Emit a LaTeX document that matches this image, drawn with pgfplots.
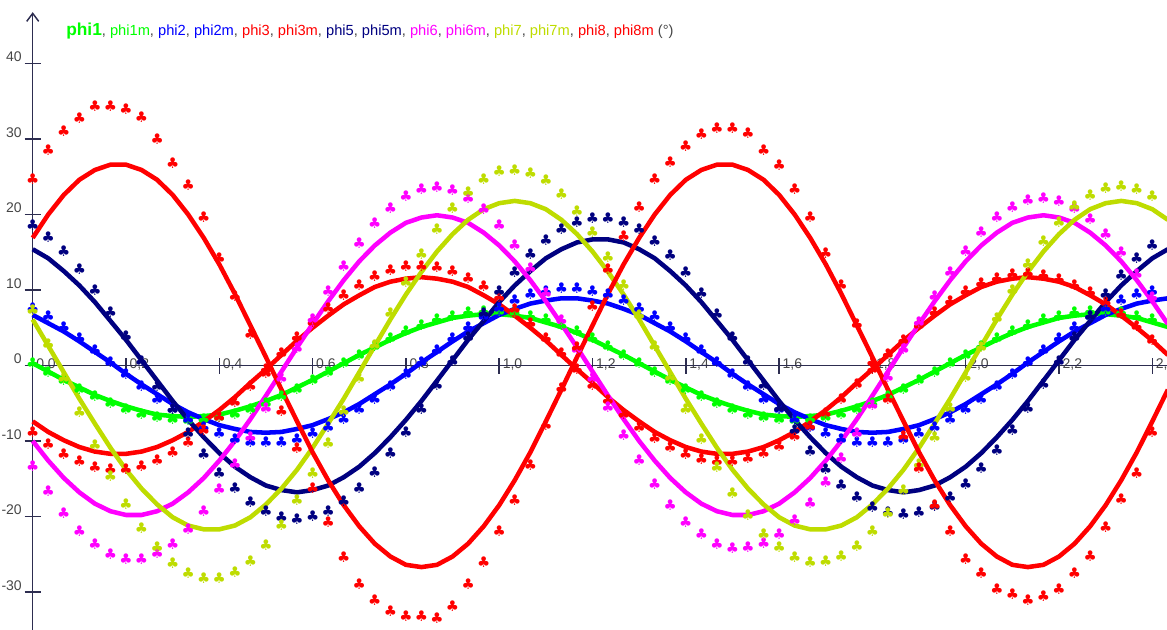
\documentclass[border=0pt]{standalone}
\usepackage{fontspec}
\setmainfont{Liberation Sans}
\newfontfamily\symfont{DejaVu Sans}
\usepackage{pgfplots}
\usepackage{pgfplotstable}
\pgfplotsset{compat=1.18}
\usetikzlibrary{arrows.meta}

\definecolor{c1}{RGB}{0,255,0}
\definecolor{c2}{RGB}{0,0,255}
\definecolor{c3}{RGB}{255,0,0}
\definecolor{c5}{RGB}{0,0,128}
\definecolor{c6}{RGB}{255,0,255}
\definecolor{c7}{RGB}{190,220,0}
\definecolor{c8}{RGB}{255,0,0}
\definecolor{axiscol}{RGB}{45,45,80}
\definecolor{labcol}{RGB}{70,70,70}

% t in s; aN = model angle, mN = measured angle (degrees)
\pgfplotstableread{
t      a1   m1   a2   m2    a3    m3    a5    m5    a6    m6    a7    m7    a8    m8
0.0000 0.3  0.3  6.7  7.6   -7.4  -8.8  15.4  18.6  -10.0 -13.3 6.1   7.3   16.9  24.7
0.0333 -0.8 -0.9 5.6  6.5   -8.8  -10.4 14.2  17.0  -12.6 -16.6 2.6   2.8   20.0  28.5
0.0667 -1.9 -2.0 4.5  5.1   -9.9  -11.7 12.5  15.1  -14.9 -19.5 -0.9  -1.7  22.6  31.1
0.1000 -2.9 -3.1 3.2  3.6   -10.8 -12.7 10.6  12.7  -16.8 -21.9 -4.4  -6.2  24.6  32.7
0.1333 -3.9 -4.1 1.8  2.0   -11.4 -13.4 8.4   10.0  -18.3 -23.7 -7.7  -10.6 25.9  34.3
0.1667 -4.7 -5.0 0.4  0.4   -11.7 -13.7 5.9   7.0   -19.3 -25.0 -10.9 -14.6 26.6  34.3
0.2000 -5.4 -5.8 -1.1 -1.2  -11.7 -13.7 3.4   3.9   -19.8 -25.6 -13.8 -18.3 26.6  33.9
0.2333 -6.0 -6.4 -2.5 -2.8  -11.4 -13.3 0.7   0.6   -19.8 -25.6 -16.3 -21.5 25.9  32.9
0.2667 -6.5 -6.8 -3.8 -4.4  -10.8 -12.6 -2.0  -2.7  -19.3 -24.9 -18.4 -24.1 24.6  30.0
0.3000 -6.7 -7.1 -5.1 -5.8  -9.9  -11.5 -4.7  -5.8  -18.3 -23.6 -20.1 -26.2 22.6  26.8
0.3333 -6.8 -7.2 -6.2 -7.1  -8.8  -10.2 -7.2  -8.9  -16.8 -21.7 -21.2 -27.5 20.0  23.9
0.3667 -6.7 -7.1 -7.1 -8.2  -7.4  -8.6  -9.5  -11.7 -14.9 -19.3 -21.7 -28.2 16.9  19.6
0.4000 -6.5 -6.8 -7.9 -9.0  -5.9  -6.8  -11.6 -14.2 -12.6 -16.4 -21.7 -28.1 13.4  14.2
0.4333 -6.0 -6.4 -8.4 -9.7  -4.2  -4.8  -13.4 -16.3 -10.0 -13.1 -21.2 -27.4 9.5   9.2
0.4667 -5.4 -5.8 -8.8 -10.1 -2.3  -2.7  -14.8 -18.1 -7.1  -9.5  -20.1 -25.9 5.3   4.1
0.5000 -4.7 -5.0 -8.9 -10.2 -0.5  -0.5  -15.9 -19.3 -4.0  -5.6  -18.4 -23.8 1.1   -1.0
0.5333 -3.9 -4.1 -8.8 -10.1 1.4   1.6   -16.5 -20.1 -0.8  -1.7  -16.3 -21.1 -3.2  -6.0
0.5667 -2.9 -3.1 -8.4 -9.7  3.3   3.7   -16.8 -20.3 2.4   2.3   -13.8 -17.9 -7.4  -11.0
0.6000 -1.9 -2.0 -7.9 -9.0  5.0   5.8   -16.5 -20.0 5.5   6.1   -10.9 -14.2 -11.5 -16.2
0.6333 -0.8 -0.9 -7.1 -8.2  6.6   7.6   -15.9 -19.3 8.5   9.8   -7.7  -10.3 -15.2 -20.8
0.6667 0.3  0.3  -6.2 -7.1  8.1   9.3   -14.8 -18.0 11.3  13.2  -4.4  -6.0  -18.5 -25.4
0.7000 1.4  1.4  -5.1 -5.8  9.3   10.7  -13.4 -16.2 13.8  16.2  -0.9  -1.7  -21.3 -28.9
0.7333 2.4  2.6  -3.8 -4.4  10.4  11.8  -11.6 -14.1 15.9  18.8  2.6   2.7   -23.6 -31.1
0.7667 3.4  3.6  -2.5 -2.8  11.1  12.6  -9.5  -11.6 17.6  20.9  6.1   6.9   -25.3 -32.5
0.8000 4.3  4.6  -1.1 -1.2  11.5  13.1  -7.2  -8.8  18.9  22.4  9.4   11.0  -26.4 -33.2
0.8333 5.1  5.4  0.4  0.4   11.7  13.2  -4.7  -5.8  19.6  23.3  12.4  14.7  -26.7 -33.2
0.8667 5.7  6.1  1.8  2.0   11.5  13.0  -2.0  -2.6  19.9  23.6  15.1  18.0  -26.4 -33.5
0.9000 6.3  6.6  3.2  3.6   11.1  12.5  0.7   0.6   19.6  23.2  17.4  20.8  -25.3 -31.9
0.9333 6.6  7.0  4.5  5.1   10.4  11.6  3.4   3.8   18.9  22.2  19.3  23.0  -23.6 -28.9
0.9667 6.8  7.2  5.6  6.5   9.3   10.5  5.9   6.9   17.6  20.7  20.7  24.7  -21.3 -26.1
1.0000 6.8  7.2  6.7  7.6   8.1   9.1   8.4   9.8   15.9  18.6  21.5  25.7  -18.5 -22.0
1.0333 6.6  7.0  7.5  8.6   6.6   7.4   10.6  12.4  13.8  16.0  21.8  25.9  -15.2 -17.8
1.0667 6.3  6.6  8.2  9.4   5.0   5.6   12.5  14.7  11.3  12.9  21.5  25.5  -11.5 -13.2
1.1000 5.7  6.1  8.6  9.9   3.3   3.6   14.2  16.6  8.5   9.6   20.7  24.5  -7.4  -7.9
1.1333 5.1  5.4  8.9  10.2  1.4   1.6   15.4  18.0  5.5   6.0   19.3  22.7  -3.2  -3.0
1.1667 4.3  4.6  8.9  10.2  -0.5  -0.5  16.3  19.0  2.4   2.2   17.4  20.4  1.1   2.4
1.2000 3.4  3.6  8.6  9.9   -2.3  -2.6  16.7  19.5  -0.8  -1.7  15.1  17.6  5.3   7.8
1.2333 2.4  2.6  8.2  9.4   -4.2  -4.6  16.7  19.5  -4.0  -5.5  12.4  14.3  9.5   12.7
1.2667 1.4  1.4  7.5  8.6   -5.9  -6.4  16.3  19.0  -7.1  -9.2  9.4   10.6  13.4  17.1
1.3000 0.3  0.3  6.7  7.6   -7.4  -8.1  15.4  18.0  -10.0 -12.6 6.1   6.7   16.9  21.0
1.3333 -0.8 -0.9 5.6  6.5   -8.8  -9.6  14.2  16.5  -12.6 -15.7 2.6   2.5   20.0  24.7
1.3667 -1.9 -2.0 4.5  5.1   -9.9  -10.8 12.5  14.6  -14.9 -18.5 -0.9  -1.6  22.6  26.9
1.4000 -2.9 -3.1 3.2  3.6   -10.8 -11.8 10.6  12.3  -16.8 -20.7 -4.4  -5.8  24.6  29.0
1.4333 -3.9 -4.1 1.8  2.0   -11.4 -12.4 8.4   9.6   -18.3 -22.4 -7.7  -9.8  25.9  30.7
1.4667 -4.7 -5.0 0.4  0.4   -11.7 -12.7 5.9   6.8   -19.3 -23.6 -10.9 -13.5 26.6  31.4
1.5000 -5.4 -5.8 -1.1 -1.2  -11.7 -12.7 3.4   3.7   -19.8 -24.2 -13.8 -16.9 26.6  31.4
1.5333 -6.0 -6.4 -2.5 -2.8  -11.4 -12.3 0.7   0.6   -19.8 -24.1 -16.3 -19.8 25.9  30.8
1.5667 -6.5 -6.8 -3.8 -4.4  -10.8 -11.6 -2.0  -2.6  -19.3 -23.5 -18.4 -22.3 24.6  28.5
1.6000 -6.7 -7.1 -5.1 -5.8  -9.9  -10.7 -4.7  -5.6  -18.3 -22.3 -20.1 -24.1 22.6  26.6
1.6333 -6.8 -7.2 -6.2 -7.1  -8.8  -9.4  -7.2  -8.6  -16.8 -20.5 -21.2 -25.4 20.0  23.3
1.6667 -6.7 -7.1 -7.1 -8.2  -7.4  -8.0  -9.5  -11.3 -14.9 -18.2 -21.7 -26.0 16.9  19.6
1.7000 -6.5 -6.8 -7.9 -9.0  -5.9  -6.3  -11.6 -13.7 -12.6 -15.5 -21.7 -25.9 13.4  14.9
1.7333 -6.0 -6.4 -8.4 -9.7  -4.2  -4.4  -13.4 -15.8 -10.0 -12.3 -21.2 -25.2 9.5   10.7
1.7667 -5.4 -5.8 -8.8 -10.1 -2.3  -2.5  -14.8 -17.5 -7.1  -9.0  -20.1 -23.9 5.3   5.5
1.8000 -4.7 -5.0 -8.9 -10.2 -0.5  -0.5  -15.9 -18.7 -4.0  -5.3  -18.4 -21.9 1.1   0.5
1.8333 -3.9 -4.1 -8.8 -10.1 1.4   1.5   -16.5 -19.4 -0.8  -1.6  -16.3 -19.5 -3.2  -4.5
1.8667 -2.9 -3.1 -8.4 -9.7  3.3   3.4   -16.8 -19.7 2.4   2.1   -13.8 -16.5 -7.4  -9.4
1.9000 -1.9 -2.0 -7.9 -9.0  5.0   5.3   -16.5 -19.4 5.5   5.7   -10.9 -13.1 -11.5 -13.6
1.9333 -0.8 -0.9 -7.1 -8.2  6.6   7.0   -15.9 -18.6 8.5   9.2   -7.7  -9.5  -15.2 -18.5
1.9667 0.3  0.3  -6.2 -7.1  8.1   8.5   -14.8 -17.4 11.3  12.4  -4.4  -5.6  -18.5 -22.0
2.0000 1.4  1.4  -5.1 -5.8  9.3   9.8   -13.4 -15.7 13.8  15.2  -0.9  -1.6  -21.3 -25.7
2.0333 2.4  2.6  -3.8 -4.4  10.4  10.9  -11.6 -13.6 15.9  17.6  2.6   2.4   -23.6 -27.5
2.0667 3.4  3.6  -2.5 -2.8  11.1  11.6  -9.5  -11.2 17.6  19.6  6.1   6.3   -25.3 -29.6
2.1000 4.3  4.6  -1.1 -1.2  11.5  12.1  -7.2  -8.5  18.9  21.0  9.4   10.0  -26.4 -30.3
2.1333 5.1  5.4  0.4  0.4   11.7  12.2  -4.7  -5.6  19.6  21.9  12.4  13.4  -26.7 -31.1
2.1667 5.7  6.1  1.8  2.0   11.5  12.0  -2.0  -2.5  19.9  22.1  15.1  16.5  -26.4 -30.6
2.2000 6.3  6.6  3.2  3.6   11.1  11.5  0.7   0.6   19.6  21.8  17.4  19.0  -25.3 -29.6
2.2333 6.6  7.0  4.5  5.1   10.4  10.7  3.4   3.7   18.9  20.9  19.3  21.1  -23.6 -27.5
2.2667 6.8  7.2  5.6  6.5   9.3   9.7   5.9   6.6   17.6  19.4  20.7  22.6  -21.3 -25.3
2.3000 6.8  7.2  6.7  7.6   8.1   8.4   8.4   9.4   15.9  17.4  21.5  23.5  -18.5 -21.4
2.3333 6.6  7.0  7.5  8.6   6.6   6.8   10.6  12.0  13.8  15.0  21.8  23.7  -15.2 -17.7
2.3667 6.3  6.6  8.2  9.4   5.0   5.2   12.5  14.2  11.3  12.1  21.5  23.4  -11.5 -14.2
2.4000 5.7  6.1  8.6  9.9   3.3   3.3   14.2  16.0  8.5   9.0   20.7  22.4  -7.4  -8.8
2.4333 5.1  5.4  8.9  10.2  1.4   1.4   15.4  17.4  5.5   5.6   19.3  20.8  -3.2  -3.5
}\phidata

\pgfplotsset{
  fit/.style={color=#1, line width=3.4pt, line join=round, mark=none},
  clubs/.style={only marks, color=#1, mark=text, text mark={\symfont ♣},
    text mark as node=true,
    text mark style={font=\fontsize{11}{11}\selectfont, inner sep=0pt, text=#1}},
}

\begin{document}
\begin{tikzpicture}
\useasboundingbox (0,0) rectangle (875.25pt,471.75pt);
\begin{axis}[
  at={(0,0)}, anchor=south west,
  scale only axis, width=875.25pt, height=471.75pt,
  xmin=-0.0701, xmax=2.4315, ymin=-34.9, ymax=48.41,
  axis lines=middle,
  axis line style={draw=none},
  hide obscured x ticks=false, hide obscured y ticks=false,
  xtick={0,0.2,0.4,0.6,0.8,1,1.2,1.4,1.6,1.8,2,2.2,2.4},
  xticklabels={{0,0},{0,2},{0,4},{0,6},{0,8},{1,0},{1,2},{1,4},{1,6},{1,8},{2,0},{2,2},{2,4}},
  ytick={-30,-20,-10,0,10,20,30,40},
  yticklabels={-30,-20,-10,0,10,20,30,40},
  major tick length=12pt, tick align=center,
  tick style={axiscol, line width=1.1pt},
  xticklabel style={anchor=south west, inner sep=0pt, xshift=2.5pt, yshift=2pt,
    font=\fontsize{10.5}{12}\selectfont, text=labcol},
  yticklabel style={anchor=south east, inner sep=0pt, xshift=-2pt, yshift=1pt,
    font=\fontsize{10.5}{12}\selectfont, text=labcol},
]
\draw[axiscol, line width=1.1pt, -{Straight Barb[length=6pt,width=9pt]}]
  (axis cs:0,-40) -- (axis cs:0,46.8);
\draw[axiscol, line width=1.1pt] (axis cs:-0.012,0) -- (axis cs:2.5,0);

\addplot[fit=c1] table[x=t, y=a1] {\phidata};
\addplot[clubs=c1] table[x=t, y=m1] {\phidata};
\addplot[fit=c2] table[x=t, y=a2] {\phidata};
\addplot[clubs=c2] table[x=t, y=m2] {\phidata};
\addplot[fit=c3] table[x=t, y=a3] {\phidata};
\addplot[clubs=c3] table[x=t, y=m3] {\phidata};
\addplot[fit=c5] table[x=t, y=a5] {\phidata};
\addplot[clubs=c5] table[x=t, y=m5] {\phidata};
\addplot[fit=c6] table[x=t, y=a6] {\phidata};
\addplot[clubs=c6] table[x=t, y=m6] {\phidata};
\addplot[fit=c7] table[x=t, y=a7] {\phidata};
\addplot[clubs=c7] table[x=t, y=m7] {\phidata};
\addplot[fit=c8] table[x=t, y=a8] {\phidata};
\addplot[clubs=c8] table[x=t, y=m8] {\phidata};
\end{axis}
\node[anchor=base west, inner sep=0pt] at (49.5pt,444.75pt) {%
  \textcolor{c1}{\fontsize{13}{15}\selectfont\bfseries phi1}%
  \fontsize{11}{13}\selectfont
  \textcolor{labcol}{, }\textcolor{c1}{phi1m}%
  \textcolor{labcol}{, }\textcolor{c2}{phi2}%
  \textcolor{labcol}{, }\textcolor{c2}{phi2m}%
  \textcolor{labcol}{, }\textcolor{c3}{phi3}%
  \textcolor{labcol}{, }\textcolor{c3}{phi3m}%
  \textcolor{labcol}{, }\textcolor{c5}{phi5}%
  \textcolor{labcol}{, }\textcolor{c5}{phi5m}%
  \textcolor{labcol}{, }\textcolor{c6}{phi6}%
  \textcolor{labcol}{, }\textcolor{c6}{phi6m}%
  \textcolor{labcol}{, }\textcolor{c7}{phi7}%
  \textcolor{labcol}{, }\textcolor{c7}{phi7m}%
  \textcolor{labcol}{, }\textcolor{c8}{phi8}%
  \textcolor{labcol}{, }\textcolor{c8}{phi8m}%
  \textcolor{labcol}{\ (°)}};
\end{tikzpicture}
\end{document}
